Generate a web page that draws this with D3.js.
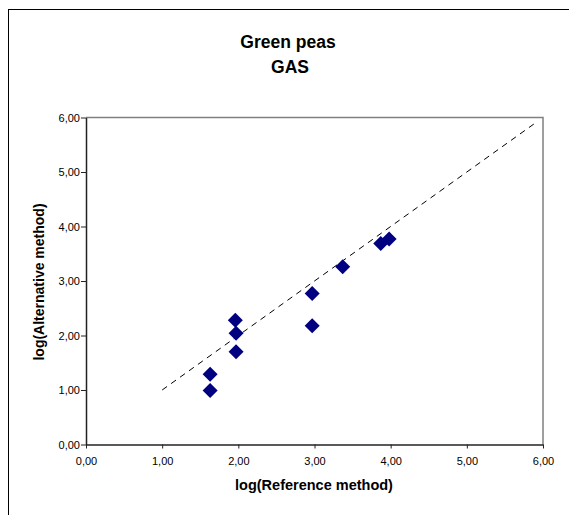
<!DOCTYPE html>
<html>
<head>
<meta charset="utf-8">
<script src="https://cdn.jsdelivr.net/npm/d3@7"></script>
<style>
  body { margin: 0; background: #fff; }
  svg { display: block; font-family: "Liberation Sans", Arial, sans-serif; }
</style>
</head>
<body>
<div id="Chart"></div>
<script>
// data
var refValues = [1.63, 1.63, 1.96, 1.97, 1.97, 2.97, 2.97, 3.37, 3.87, 3.98];
var altValues = [1.29, 0.99, 2.28, 2.04, 1.70, 2.77, 2.18, 3.26, 3.69, 3.77];
var tickValues = [0, 1, 2, 3, 4, 5, 6];
var lineEnds = [1, 5.9];

var W = 569, H = 515;
var margin = {top: 117.5, right: 26, bottom: 70.5, left: 86},
    width = W - margin.left - margin.right,
    height = H - margin.top - margin.bottom;

var svg = d3.select("#Chart")
    .append("svg")
    .attr("width", W)
    .attr("height", H)
    .attr("class", "chart");

// outer chart border (cut off at right and bottom)
svg.append("rect")
    .attr("x", 8.5).attr("y", 9.5)
    .attr("width", 600).attr("height", 540)
    .attr("fill", "none")
    .attr("stroke", "#000")
    .attr("stroke-width", 1);

var g = svg.append("g")
    .attr("transform", "translate(" + margin.left + "," + margin.top + ")");

var x = d3.scaleLinear().domain([0, 6]).range([0, width]);
var y = d3.scaleLinear().domain([0, 6]).range([height, 0]);

var fmt = function(d) { return d3.format(".2f")(d).replace(".", ","); };

// plot frame (right and top in grey)
g.append("path")
    .attr("d", "M0,0H" + width + "V" + height)
    .attr("fill", "none")
    .attr("stroke", "#808080")
    .attr("stroke-width", 1.5);

var xAxis = d3.axisBottom(x).tickValues(tickValues).tickFormat(fmt).tickSize(4).tickSizeOuter(0);
var yAxis = d3.axisLeft(y).tickValues(tickValues).tickFormat(fmt).tickSize(5).tickSizeOuter(0);

var gx = g.append("g")
    .attr("transform", "translate(0," + height + ")")
    .call(xAxis);
var gy = g.append("g").call(yAxis);

[gx, gy].forEach(function(a) {
    a.select(".domain").attr("stroke", "#222").attr("stroke-width", 1.5);
    a.selectAll(".tick line").attr("stroke", "#222");
    a.selectAll(".tick text")
        .style("font-size", "11px")
        .style("font-family", "Liberation Sans, Arial, sans-serif")
        .attr("fill", "#000");
});
gx.selectAll(".tick text").attr("dy", "0").attr("y", 20);
gy.selectAll(".tick text").attr("x", -6).attr("dy", "0.36em");

// dashed 1:1 line
g.append("line")
    .attr("x1", x(lineEnds[0])).attr("y1", y(lineEnds[0]))
    .attr("x2", x(lineEnds[1])).attr("y2", y(lineEnds[1]))
    .attr("stroke", "#000")
    .attr("stroke-width", 1)
    .attr("stroke-dasharray", "6,5");

// diamonds
var data = refValues.map(function(d, i) { return {ref: d, alt: altValues[i]}; });
g.selectAll(".pt")
    .data(data)
    .enter().append("path")
    .attr("class", "pt")
    .attr("d", "M0,-7.5L7.5,0L0,7.5L-7.5,0Z")
    .attr("transform", function(d) { return "translate(" + x(d.ref) + "," + y(d.alt) + ")"; })
    .attr("fill", "#000080");

// title
svg.append("text")
    .attr("x", 288).attr("y", 48)
    .attr("text-anchor", "middle")
    .style("font-size", "17.5px").style("font-weight", "bold")
    .text("Green peas");
svg.append("text")
    .attr("x", 290).attr("y", 73)
    .attr("text-anchor", "middle")
    .style("font-size", "17.5px").style("font-weight", "bold")
    .text("GAS");

// axis titles
svg.append("text")
    .attr("x", 314).attr("y", 490)
    .attr("text-anchor", "middle")
    .style("font-size", "14.5px").style("font-weight", "bold")
    .text("log(Reference method)");
svg.append("text")
    .attr("transform", "translate(44,282) rotate(-90)")
    .attr("text-anchor", "middle")
    .style("font-size", "14px").style("font-weight", "bold")
    .text("log(Alternative method)");
</script>
</body>
</html>
